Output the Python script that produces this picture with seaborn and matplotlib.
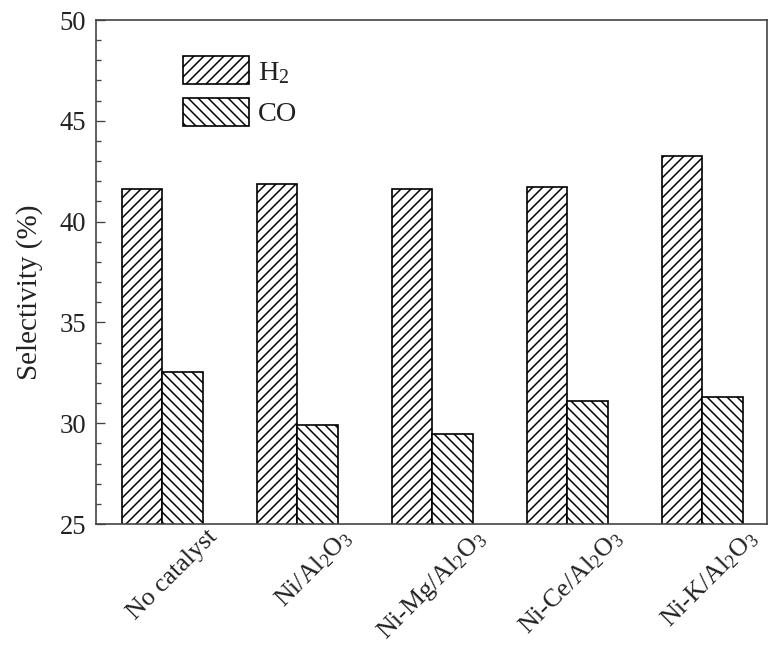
import numpy as np
import pandas as pd
import matplotlib
matplotlib.use("Agg")
import matplotlib.pyplot as plt
import matplotlib.transforms as mtransforms
from matplotlib.ticker import MultipleLocator
import seaborn as sns

catalysts = ["No catalyst", "Ni/Al$_2$O$_3$", "Ni-Mg/Al$_2$O$_3$",
             "Ni-Ce/Al$_2$O$_3$", "Ni-K/Al$_2$O$_3$"]
h2_values = [41.6, 41.85, 41.6, 41.7, 43.25]
co_values = [32.55, 29.9, 29.45, 31.1, 31.3]
gases = ["H$_2$", "CO"]

df = pd.DataFrame({
    "catalyst": catalysts * 2,
    "selectivity": h2_values + co_values,
    "gas": [gases[0]] * len(catalysts) + [gases[1]] * len(catalysts),
})

sns.set_theme(style="ticks")
plt.rcParams["font.family"] = ["Liberation Serif", "DejaVu Serif"]
plt.rcParams["mathtext.fontset"] = "custom"
plt.rcParams["mathtext.rm"] = "Liberation Serif"
plt.rcParams["mathtext.it"] = "Liberation Serif:italic"
plt.rcParams["mathtext.default"] = "rm"
plt.rcParams["hatch.linewidth"] = 0.9
plt.rcParams["hatch.color"] = "black"

DPI = 120
fig = plt.figure(figsize=(769 / DPI, 650 / DPI), dpi=DPI)
ax = fig.add_axes([96 / 769, 1 - 524 / 650, (767 - 96) / 769, (524 - 20) / 650])

sns.barplot(data=df, x="catalyst", y="selectivity", hue="gas",
            order=catalysts, hue_order=gases,
            palette=["white", "white"], saturation=1, width=0.6, gap=0,
            edgecolor="black", linewidth=1.0, legend=False, ax=ax)

hatches = ["////", "\\\\\\\\"]
for cont, h in zip(ax.containers, hatches):
    for p in cont.patches:
        p.set_hatch(h)
        p.set_edgecolor("black")
        p.set_facecolor("white")

ax.set_ylim(25, 50)
ax.set_xlim(-0.49, 4.48)
ax.yaxis.set_major_locator(MultipleLocator(5))
ax.yaxis.set_minor_locator(MultipleLocator(1))
ax.tick_params(axis="y", which="major", direction="in", length=5.4, width=0.8,
               color="#444", labelsize=16, labelcolor="#222", pad=6)
ax.tick_params(axis="y", which="minor", direction="in", length=2.7, width=0.8,
               color="#444")
ax.tick_params(axis="x", length=0, labelsize=15.5, labelcolor="#222", pad=1)

for s in ax.spines.values():
    s.set_visible(True)
    s.set_color("#444")
    s.set_linewidth(1.0)

ax.set_xlabel("")
ax.set_ylabel("Selectivity (%)", fontsize=17.5, color="#222")
ax.yaxis.set_label_coords(-0.079, 0.46)

offset = mtransforms.ScaledTranslation(60 / DPI, 0, fig.dpi_scale_trans)
for lab in ax.get_xticklabels():
    lab.set_rotation(45)
    lab.set_ha("right")
    lab.set_transform(lab.get_transform() + offset)

handles = [cont.patches[0] for cont in ax.containers]
ax.legend(handles=handles, labels=gases, loc="upper left",
          bbox_to_anchor=((183 - 96) / 671, (524 - 56) / 504),
          frameon=False, fontsize=17, handlelength=2.33, handleheight=1.16,
          labelspacing=0.42, handletextpad=0.32, borderpad=0, borderaxespad=0,
          labelcolor="#222")

fig.savefig("out.png", dpi=DPI, facecolor="white")
